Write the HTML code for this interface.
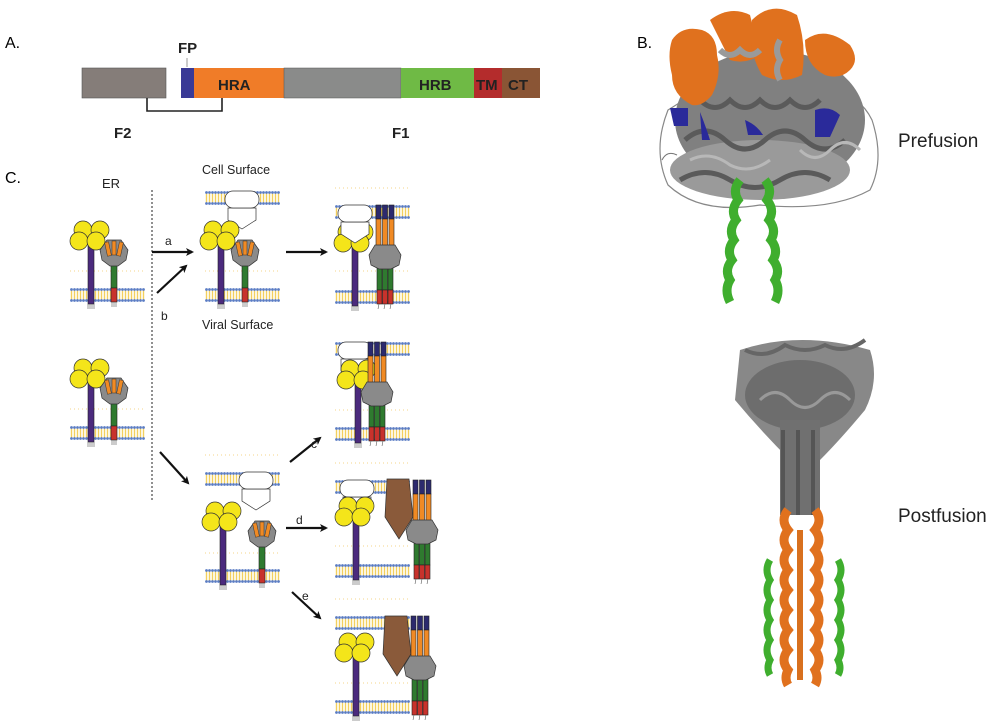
<!DOCTYPE html>
<html><head><meta charset="utf-8"><style>body{margin:0;background:#fff}svg{display:block}text{font-family:"Liberation Sans",sans-serif}</style></head><body>
<svg width="1000" height="728" viewBox="0 0 1000 728" xmlns="http://www.w3.org/2000/svg">
<defs>
<pattern id="mp" width="3" height="14" patternUnits="userSpaceOnUse">
<rect x="0.8" y="2.5" width="1.4" height="9" fill="#f3cf5e"/>
<circle cx="1.5" cy="1.5" r="1.4" fill="#5a7cc4"/>
<circle cx="1.5" cy="12.5" r="1.4" fill="#5a7cc4"/>
</pattern>
<g id="mem"><rect x="0" y="0" width="75" height="14" fill="url(#mp)"/></g>
<g id="dot"><line x1="0" y1="0" x2="75" y2="0" stroke="#f5d58a" stroke-width="1" stroke-dasharray="1 3"/></g>
<g id="gp">
<rect x="-3" y="-50" width="6" height="66" fill="#4b2a7d" stroke="#222" stroke-width="0.6"/>
<path d="M-3 16v5M-1 16v5M1 16v5M3 16v5" stroke="#555" stroke-width="0.6"/>
<circle cx="-8" cy="-58" r="9" fill="#f4e51a" stroke="#333" stroke-width="0.7"/>
<circle cx="9" cy="-58" r="9" fill="#f4e51a" stroke="#333" stroke-width="0.7"/>
<circle cx="-12" cy="-47" r="9" fill="#f4e51a" stroke="#333" stroke-width="0.7"/>
<circle cx="5" cy="-47" r="9" fill="#f4e51a" stroke="#333" stroke-width="0.7"/>
</g>
<g id="pf">
<rect x="-3" y="-24" width="6" height="24" fill="#2f7a2f" stroke="#222" stroke-width="0.6"/>
<rect x="-3" y="0" width="6" height="14" fill="#c8322c" stroke="#222" stroke-width="0.6"/>
<path d="M-2 14v5M0 14v5M2 14v5" stroke="#555" stroke-width="0.6"/>
<polygon points="-7,-48 7,-48 14,-38 12,-28 4,-22 -4,-22 -12,-28 -14,-38" fill="#8a8a8a" stroke="#333" stroke-width="0.7"/>
<rect x="-8" y="-46" width="4" height="14" fill="#f08a24" stroke="#333" stroke-width="0.5" transform="rotate(-12 -6 -39)"/>
<rect x="-2" y="-47" width="4" height="14" fill="#f08a24" stroke="#333" stroke-width="0.5"/>
<rect x="4" y="-46" width="4" height="14" fill="#f08a24" stroke="#333" stroke-width="0.5" transform="rotate(12 6 -39)"/>
</g>
<g id="po">
<g stroke="#222" stroke-width="0.6">
<rect x="-9" y="0" width="5" height="14" fill="#2c2a6e"/><rect x="-2.5" y="0" width="5" height="14" fill="#2c2a6e"/><rect x="4" y="0" width="5" height="14" fill="#2c2a6e"/>
<rect x="-9" y="14" width="5" height="30" fill="#f08a24"/><rect x="-2.5" y="14" width="5" height="30" fill="#f08a24"/><rect x="4" y="14" width="5" height="30" fill="#f08a24"/>
<rect x="-8" y="60" width="5" height="25" fill="#2f7a2f"/><rect x="-2.5" y="60" width="5" height="25" fill="#2f7a2f"/><rect x="3" y="60" width="5" height="25" fill="#2f7a2f"/>
<rect x="-8" y="85" width="5" height="14" fill="#c8322c"/><rect x="-2.5" y="85" width="5" height="14" fill="#c8322c"/><rect x="3" y="85" width="5" height="14" fill="#c8322c"/>
</g>
<polygon points="-10,40 10,40 16,50 14,60 6,64 -6,64 -14,60 -16,50" fill="#8a8a8a" stroke="#333" stroke-width="0.7"/>
<path d="M-6 99l-1 5M0 99l-1 5M6 99l-1 5" stroke="#555" stroke-width="0.6"/>
</g>
<g id="rc">
<polygon points="-14,14 14,14 14,26 0,35 -14,26" fill="#fff" stroke="#333" stroke-width="0.7"/>
<rect x="-17" y="-3" width="34" height="17" rx="8" fill="#fff" stroke="#333" stroke-width="0.7"/>
</g>
<g id="wedge"><polygon points="0,0 22,0 26,38 12,60 -2,38" fill="#8a5a3a" stroke="#333" stroke-width="0.7"/></g>
<marker id="ah" markerWidth="8" markerHeight="8" refX="6" refY="4" orient="auto" markerUnits="userSpaceOnUse"><path d="M0,0 L8,4 L0,8 L2,4z" fill="#111"/></marker>
</defs>

<text x="5" y="48" font-size="16">A.</text>
<rect x="82" y="68" width="84" height="30" fill="#857d79" stroke="#555" stroke-width="0.6"/>
<rect x="181" y="68" width="13" height="30" fill="#3a3a96"/>
<rect x="194" y="68" width="90" height="30" fill="#f07c28"/>
<rect x="284" y="68" width="117" height="30" fill="#8a8b8a" stroke="#555" stroke-width="0.5"/>
<rect x="401" y="68" width="73" height="30" fill="#6fba45"/>
<rect x="474" y="68" width="28" height="30" fill="#b42c2c"/>
<rect x="502" y="68" width="38" height="30" fill="#8a5535"/>
<line x1="187" y1="58" x2="187" y2="67" stroke="#999"/>
<text x="178" y="53" font-size="15" font-weight="bold" fill="#222">FP</text>
<text x="218" y="90" font-size="15" font-weight="bold" fill="#222">HRA</text>
<text x="419" y="90" font-size="15" font-weight="bold" fill="#222">HRB</text>
<text x="476" y="90" font-size="15" font-weight="bold" fill="#222">TM</text>
<text x="508" y="90" font-size="15" font-weight="bold" fill="#222">CT</text>
<path d="M147 98V111H222V98" fill="none" stroke="#222" stroke-width="1.6"/>
<text x="114" y="138" font-size="15" font-weight="bold" fill="#222">F2</text>
<text x="392" y="138" font-size="15" font-weight="bold" fill="#222">F1</text>

<text x="637" y="48" font-size="16">B.</text>
<text x="898" y="147" font-size="19" fill="#222">Prefusion</text>
<text x="898" y="522" font-size="19" fill="#222">Postfusion</text>

<!-- prefusion -->
<g>
<path d="M668 110 Q652 150 668 185 Q700 215 760 205 Q830 212 870 190 Q885 160 872 120 Q860 95 830 90 L700 90Z" fill="none" stroke="#888" stroke-width="1.2"/>
<ellipse cx="770" cy="120" rx="95" ry="70" fill="#808080"/>
<ellipse cx="760" cy="170" rx="90" ry="30" fill="#9a9a9a"/>
<g stroke="#5a5a5a" stroke-width="5" fill="none">
<path d="M685 140 q20 -18 40 0 q20 18 40 0 q20 -18 40 0 q20 18 40 0"/>
<path d="M680 180 q25 -15 50 0 q25 15 50 0 q25 -15 50 0"/>
<path d="M700 100 q15 15 30 0 q15 15 30 0 q15 15 30 0 q15 15 30 0"/>
</g>
<g stroke="#b8b8b8" stroke-width="3" fill="none">
<path d="M690 160 q20 -10 40 5 q20 10 40 -5"/>
<path d="M800 150 q15 15 30 0 q15 -15 30 0"/>
</g>
<path d="M662 160 q5 -10 15 -5" stroke="#777" fill="none"/>
<g fill="#e0711e">
<path d="M672 40 q10 -15 30 -10 q15 5 15 25 q5 20 -5 40 q-10 12 -20 10 q-20 -10 -20 -30 q-5 -20 0 -35z"/>
<path d="M710 20 q20 -15 40 -5 l10 40 q-15 10 -30 5z"/>
<path d="M752 20 q20 -20 45 -5 q10 30 5 60 q-20 10 -40 0 q-15 -25 -10 -55z"/>
<path d="M805 40 q20 -15 45 5 q10 15 0 25 q-10 10 -25 5 q-20 -10 -20 -35z"/>
</g>
<g stroke="#9a9a9a" stroke-width="6" fill="none">
<path d="M720 50 q10 10 20 0 q10 10 20 0"/>
<path d="M780 40 q-6 10 0 20 q-6 10 0 20"/>
</g>
<g fill="#2a2a9a">
<path d="M670 108 h18 v18 h-14z"/>
<path d="M700 112 q6 15 10 28 h-8z"/>
<path d="M745 120 q12 5 18 15 h-15z"/>
<path d="M815 110 q15 -5 25 5 l-10 22 h-15z"/>
</g>
<path d="M740 180 q-8 10 -2 20 q-8 10 -2 20 q-8 10 -2 20 q-8 10 -2 20 q-8 10 -2 20 q-6 10 0 22" stroke="#3fae2e" stroke-width="9" fill="none"/>
<path d="M765 180 q8 10 2 20 q8 10 2 20 q8 10 2 20 q8 10 2 20 q8 10 2 20 q6 10 0 22" stroke="#3fae2e" stroke-width="9" fill="none"/>
</g>
<!-- postfusion -->
<g>
<path d="M740 350 Q800 330 870 350 Q880 380 865 410 Q840 440 820 460 L790 460 Q760 430 735 400Z" fill="#888"/>
<path d="M745 350 q20 10 40 -5 q20 10 40 0 q20 10 40 -5" stroke="#666" stroke-width="4" fill="none"/>
<ellipse cx="800" cy="395" rx="55" ry="35" fill="#6d6d6d"/>
<path d="M760 400 q15 -15 30 0 q15 15 30 0 q15 -15 30 0" stroke="#999" stroke-width="3" fill="none"/>
<rect x="780" y="420" width="40" height="95" fill="#707070"/>
<path d="M783 430 v85 M798 430 v85 M813 430 v85" stroke="#555" stroke-width="4"/>
<path d="M788 510 q-8 10 0 20 q-8 10 0 20 q-8 10 0 20 q-8 10 0 20 q-8 10 0 20 q-8 10 0 20 q-8 10 0 20 q-8 10 0 20 q-4 8 0 15" stroke="#e0711e" stroke-width="9" fill="none"/>
<path d="M815 510 q8 10 0 20 q8 10 0 20 q8 10 0 20 q8 10 0 20 q8 10 0 20 q8 10 0 20 q8 10 0 20 q8 10 0 20 q4 8 0 15" stroke="#e0711e" stroke-width="9" fill="none"/>
<path d="M770 560 q-6 10 0 20 q-6 10 0 20 q-6 10 0 20 q-6 10 0 20 q-6 10 0 20 q-4 8 0 15" stroke="#3fae2e" stroke-width="7" fill="none"/>
<path d="M838 560 q6 10 0 20 q6 10 0 20 q6 10 0 20 q6 10 0 20 q6 10 0 20 q4 8 0 15" stroke="#3fae2e" stroke-width="7" fill="none"/>
<path d="M800 530 v150" stroke="#d8701e" stroke-width="6"/>
</g>

<text x="5" y="183" font-size="16">C.</text>
<text x="102" y="188" font-size="13" fill="#222">ER</text>
<line x1="152" y1="190" x2="152" y2="500" stroke="#222" stroke-width="1" stroke-dasharray="2 2"/>
<text x="202" y="174" font-size="12.5" fill="#222">Cell Surface</text>
<text x="202" y="329" font-size="12.5" fill="#222">Viral Surface</text>

<use href="#dot" x="70" y="271"/><use href="#mem" x="70" y="288"/>
<use href="#gp" x="91" y="288"/><use href="#pf" x="114" y="288"/>
<use href="#dot" x="70" y="409"/><use href="#mem" x="70" y="426"/>
<use href="#gp" x="91" y="426"/><use href="#pf" x="114" y="426"/>

<use href="#mem" x="205" y="191"/><use href="#rc" x="242" y="194"/>
<use href="#dot" x="205" y="271"/><use href="#mem" x="205" y="288"/>
<use href="#gp" x="221" y="288"/><use href="#pf" x="245" y="288"/>

<use href="#dot" x="335" y="188"/><use href="#mem" x="335" y="205"/>
<use href="#dot" x="335" y="271"/><use href="#mem" x="335" y="290"/>
<use href="#gp" x="355" y="290"/><use href="#rc" x="355" y="208"/>
<use href="#po" x="385" y="205"/>

<use href="#mem" x="335" y="342"/><use href="#dot" x="335" y="410"/><use href="#mem" x="335" y="427"/>
<use href="#rc" x="355" y="345"/>
<use href="#gp" x="358" y="427"/>
<use href="#po" x="377" y="342"/>

<use href="#dot" x="205" y="455"/><use href="#mem" x="205" y="472"/><use href="#rc" x="256" y="475"/>
<use href="#dot" x="205" y="553"/><use href="#mem" x="205" y="569"/>
<use href="#gp" x="223" y="569"/><use href="#pf" x="262" y="569"/>

<use href="#dot" x="335" y="463"/><use href="#mem" x="335" y="480"/><use href="#dot" x="335" y="546"/><use href="#mem" x="335" y="564"/>
<use href="#rc" x="357" y="483"/><use href="#gp" x="356" y="564"/>
<use href="#wedge" x="387" y="479"/>
<use href="#po" x="422" y="480"/>

<use href="#dot" x="335" y="599"/><use href="#mem" x="335" y="616"/><use href="#dot" x="335" y="683"/><use href="#mem" x="335" y="700"/>
<use href="#gp" x="356" y="700"/>
<use href="#wedge" x="385" y="616"/>
<use href="#po" x="420" y="616"/>

<g stroke="#111" stroke-width="2.2" fill="none" marker-end="url(#ah)">
<line x1="152" y1="252" x2="192" y2="252"/>
<line x1="157" y1="293" x2="186" y2="266"/>
<line x1="286" y1="252" x2="326" y2="252"/>
<line x1="160" y1="452" x2="188" y2="483"/>
<line x1="290" y1="462" x2="320" y2="438"/>
<line x1="286" y1="528" x2="326" y2="528"/>
<line x1="292" y1="592" x2="320" y2="618"/>
</g>
<g font-size="12" fill="#222">
<text x="165" y="245">a</text><text x="161" y="320">b</text><text x="311" y="448">c</text><text x="296" y="524">d</text><text x="302" y="600">e</text>
</g>
</svg>
</body></html>
